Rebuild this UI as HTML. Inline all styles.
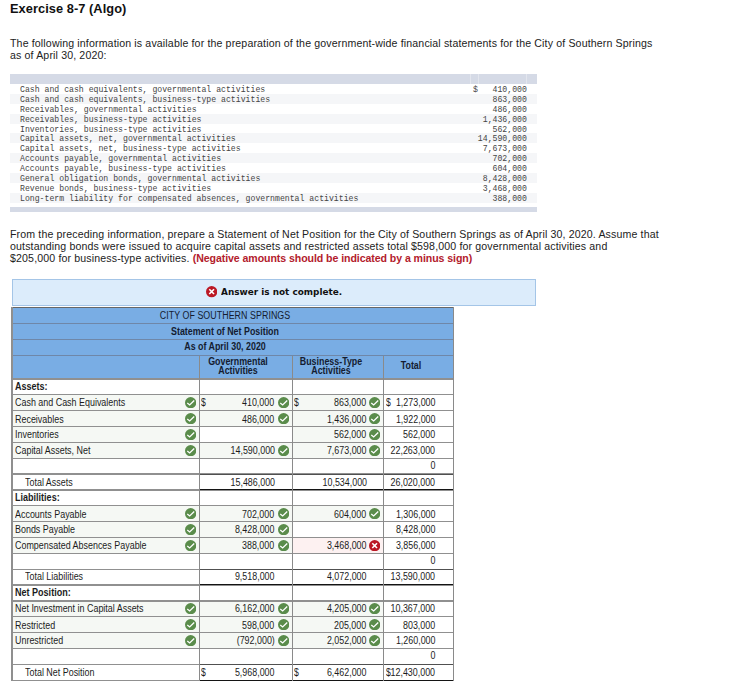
<!DOCTYPE html>
<html><head><meta charset="utf-8">
<style>
html,body{margin:0;padding:0;background:#fff;}
body{width:753px;height:692px;position:relative;overflow:hidden;font-family:"Liberation Sans",sans-serif;color:#222;}
h1{position:absolute;left:10px;top:0.6px;margin:0;font-size:12.8px;letter-spacing:0.06px;font-weight:bold;color:#111;white-space:nowrap;}
.p{position:absolute;left:10px;font-size:10.6px;letter-spacing:0.14px;line-height:12.4px;color:#222;white-space:nowrap;}
.red{color:#b3202c;font-weight:bold;letter-spacing:-0.08px}
#mono{position:absolute;left:9.5px;top:74px;width:527.2px;}
#mono .hd{height:10px;background:#d5dae6;position:relative}
#mono .hd i{position:absolute;top:0;height:10px;width:1px;background:#e3e6ee}
#mono .ft{height:4.8px;background:#d5dae6;margin-top:3.7px}
#mono .r{height:9.9px;font-family:"Liberation Mono",monospace;font-size:8.18px;line-height:10px;color:#444;position:relative;white-space:pre;}
#mono .r:nth-child(odd){background:#f5f6f8;}
#mono .r span.l{position:absolute;left:10.5px;top:0.6px}
#mono .r span.v{position:absolute;right:9.8px;top:0.6px}
#mono .r.d span.l,#mono .r.d span.v{top:1.6px}
#ans{position:absolute;left:11.5px;top:279.1px;width:524.5px;height:26.7px;box-sizing:border-box;border:1.3px solid #a4c5e7;background:#dcecfb;}
#ans span{position:absolute;left:208.1px;top:3.7px;font-family:"DejaVu Sans","Liberation Sans",sans-serif;font-weight:bold;font-size:9.5px;line-height:16px;color:#111;white-space:nowrap;transform:scaleX(0.936);transform-origin:left}
#ans svg{position:absolute;left:193.6px;top:6.2px;width:11.3px;height:11.3px}
#tb{position:absolute;left:0;top:0;width:753px;height:692px;font-size:9px;}
#hdr{position:absolute;left:11.5px;top:307px;width:441.9px;height:72px;background:#79ade4;}
.ht{position:absolute;left:25px;width:400px;text-align:center;font-size:10px;line-height:10px;color:#141c30;white-space:nowrap;transform:scaleX(0.887)}
.ht.b{font-weight:bold}
.ch{position:absolute;text-align:center;font-weight:bold;font-size:10px;line-height:9.6px;color:#141c30;transform:scaleX(0.887)}
.row{position:absolute;left:0;width:753px;height:15.85px;}
.row .bg{position:absolute;top:0;height:15.85px}
.bg.g{background:#f5f8f4}.bg.r{background:#fdf1f1}
.row span{position:absolute;top:1.9px;line-height:11px;font-size:10px;color:#1c1c1c;white-space:nowrap;transform:scaleX(0.903);transform-origin:left}
.row.d1 span{top:2.9px}
.row .val{transform:scaleX(0.89);transform-origin:right}
.row .dl{transform:scaleX(0.86)}
.row .lab{left:15.4px;transform:scaleX(0.893)}.row .lab.b{font-weight:bold;transform:scaleX(0.903)}.row .lab.ind{left:25px}
.row .ic{position:absolute;top:2.3px;width:11.3px;height:11.3px}
.hl{position:absolute;left:11.5px;width:441.9px;height:1.25px;background:#909090}
.vl{position:absolute;width:1.3px;background:#8a8a8a}
.dk{position:absolute;height:1.25px}
</style></head><body>
<h1>Exercise 8-7 (Algo)</h1>
<div class="p" style="top:36.7px">The following information is available for the preparation of the government-wide financial statements for the City of Southern Springs<br>as of April 30, 2020:</div>
<div id="mono">
<div class="hd"><i style="left:460px"></i><i style="left:468px"></i><i style="left:516px"></i></div>
<div class="r"><span class="l">Cash and cash equivalents, governmental activities</span><span class="v">$   410,000</span></div>
<div class="r d"><span class="l">Cash and cash equivalents, business-type activities</span><span class="v">863,000</span></div>
<div class="r d"><span class="l">Receivables, governmental activities</span><span class="v">486,000</span></div>
<div class="r d"><span class="l">Receivables, business-type activities</span><span class="v">1,436,000</span></div>
<div class="r d"><span class="l">Inventories, business-type activities</span><span class="v">562,000</span></div>
<div class="r"><span class="l">Capital assets, net, governmental activities</span><span class="v">14,590,000</span></div>
<div class="r"><span class="l">Capital assets, net, business-type activities</span><span class="v">7,673,000</span></div>
<div class="r"><span class="l">Accounts payable, governmental activities</span><span class="v">702,000</span></div>
<div class="r"><span class="l">Accounts payable, business-type activities</span><span class="v">604,000</span></div>
<div class="r"><span class="l">General obligation bonds, governmental activities</span><span class="v">8,428,000</span></div>
<div class="r"><span class="l">Revenue bonds, business-type activities</span><span class="v">3,468,000</span></div>
<div class="r d" style="height:10.6px"><span class="l">Long-term liability for compensated absences, governmental activities</span><span class="v">388,000</span></div>
<div class="ft"></div>
</div>
<div class="p" style="top:227.6px">From the preceding information, prepare a Statement of Net Position for the City of Southern Springs as of April 30, 2020. Assume that<br>outstanding bonds were issued to acquire capital assets and restricted assets total $598,000 for governmental activities and<br>$205,000 for business-type activities. <span class="red">(Negative amounts should be indicated by a minus sign)</span></div>
<div id="ans"><svg viewBox="0 0 24 24"><circle cx="12" cy="12" r="12" fill="#bb1824"/><path d="M7 7l10 10M17 7l-10 10" fill="none" stroke="#fff" stroke-width="3.4"/></svg><span>Answer is not complete.</span></div>
<div id="tb">
<div id="hdr"></div>
<div class="ht" style="top:311.3px;letter-spacing:0.05px">CITY OF SOUTHERN SPRINGS</div>
<div class="ht b" style="top:327.2px">Statement of Net Position</div>
<div class="ht b" style="top:342.1px">As of April 30, 2020</div>
<div class="ch" style="left:199.4px;width:78px;top:356.6px">Governmental<br>Activities</div>
<div class="ch" style="left:292.3px;width:78px;top:356.6px">Business-Type<br>Activities</div>
<div class="ch" style="left:383.7px;width:54px;top:361.4px">Total</div>
<div class="row" style="top:379.00px">
<span class="lab b">Assets:</span>
</div>
<div class="row" style="top:394.85px">
<div class="bg g" style="left:12.0px;width:187.4px"></div>
<div class="bg g" style="left:199.4px;width:92.9px"></div>
<div class="bg g" style="left:292.3px;width:91.4px"></div>
<span class="lab">Cash and Cash Equivalents</span>
<svg class="ic" style="left:184.8px" viewBox="0 0 24 24"><circle cx="12" cy="12" r="12" fill="#5a8c4b"/><path d="M4.8 12.6L9.9 17L19.6 7.4" fill="none" stroke="#fff" stroke-width="2.7"/></svg>
<span class="dl" style="left:200.7px">$</span>
<span class="val" style="right:478.4px">410,000</span>
<svg class="ic" style="left:277.5px" viewBox="0 0 24 24"><circle cx="12" cy="12" r="12" fill="#5a8c4b"/><path d="M4.8 12.6L9.9 17L19.6 7.4" fill="none" stroke="#fff" stroke-width="2.7"/></svg>
<span class="dl" style="left:293.6px">$</span>
<span class="val" style="right:386.4px">863,000</span>
<svg class="ic" style="left:368.9px" viewBox="0 0 24 24"><circle cx="12" cy="12" r="12" fill="#5a8c4b"/><path d="M4.8 12.6L9.9 17L19.6 7.4" fill="none" stroke="#fff" stroke-width="2.7"/></svg>
<span class="dl" style="left:386.0px">$</span>
<span class="val" style="right:317.8px">1,273,000</span>
</div>
<div class="row d1" style="top:410.70px">
<div class="bg g" style="left:12.0px;width:187.4px"></div>
<div class="bg g" style="left:199.4px;width:92.9px"></div>
<div class="bg g" style="left:292.3px;width:91.4px"></div>
<span class="lab">Receivables</span>
<svg class="ic" style="left:184.8px" viewBox="0 0 24 24"><circle cx="12" cy="12" r="12" fill="#5a8c4b"/><path d="M4.8 12.6L9.9 17L19.6 7.4" fill="none" stroke="#fff" stroke-width="2.7"/></svg>
<span class="val" style="right:478.4px">486,000</span>
<svg class="ic" style="left:277.5px" viewBox="0 0 24 24"><circle cx="12" cy="12" r="12" fill="#5a8c4b"/><path d="M4.8 12.6L9.9 17L19.6 7.4" fill="none" stroke="#fff" stroke-width="2.7"/></svg>
<span class="val" style="right:386.4px">1,436,000</span>
<svg class="ic" style="left:368.9px" viewBox="0 0 24 24"><circle cx="12" cy="12" r="12" fill="#5a8c4b"/><path d="M4.8 12.6L9.9 17L19.6 7.4" fill="none" stroke="#fff" stroke-width="2.7"/></svg>
<span class="val" style="right:317.8px">1,922,000</span>
</div>
<div class="row d1" style="top:426.55px">
<div class="bg g" style="left:12.0px;width:187.4px"></div>
<div class="bg g" style="left:292.3px;width:91.4px"></div>
<span class="lab">Inventories</span>
<svg class="ic" style="left:184.8px" viewBox="0 0 24 24"><circle cx="12" cy="12" r="12" fill="#5a8c4b"/><path d="M4.8 12.6L9.9 17L19.6 7.4" fill="none" stroke="#fff" stroke-width="2.7"/></svg>
<span class="val" style="right:386.4px">562,000</span>
<svg class="ic" style="left:368.9px" viewBox="0 0 24 24"><circle cx="12" cy="12" r="12" fill="#5a8c4b"/><path d="M4.8 12.6L9.9 17L19.6 7.4" fill="none" stroke="#fff" stroke-width="2.7"/></svg>
<span class="val" style="right:317.8px">562,000</span>
</div>
<div class="row d1" style="top:442.40px">
<div class="bg g" style="left:12.0px;width:187.4px"></div>
<div class="bg g" style="left:199.4px;width:92.9px"></div>
<div class="bg g" style="left:292.3px;width:91.4px"></div>
<span class="lab">Capital Assets, Net</span>
<svg class="ic" style="left:184.8px" viewBox="0 0 24 24"><circle cx="12" cy="12" r="12" fill="#5a8c4b"/><path d="M4.8 12.6L9.9 17L19.6 7.4" fill="none" stroke="#fff" stroke-width="2.7"/></svg>
<span class="val" style="right:478.4px">14,590,000</span>
<svg class="ic" style="left:277.5px" viewBox="0 0 24 24"><circle cx="12" cy="12" r="12" fill="#5a8c4b"/><path d="M4.8 12.6L9.9 17L19.6 7.4" fill="none" stroke="#fff" stroke-width="2.7"/></svg>
<span class="val" style="right:386.4px">7,673,000</span>
<svg class="ic" style="left:368.9px" viewBox="0 0 24 24"><circle cx="12" cy="12" r="12" fill="#5a8c4b"/><path d="M4.8 12.6L9.9 17L19.6 7.4" fill="none" stroke="#fff" stroke-width="2.7"/></svg>
<span class="val" style="right:317.8px">22,263,000</span>
</div>
<div class="row" style="top:458.25px">
<span class="val" style="right:317.8px">0</span>
</div>
<div class="row d1" style="top:474.10px">
<span class="lab ind">Total Assets</span>
<span class="val" style="right:478.4px">15,486,000</span>
<span class="val" style="right:386.4px">10,534,000</span>
<span class="val" style="right:317.8px">26,020,000</span>
</div>
<div class="row" style="top:489.95px">
<span class="lab b">Liabilities:</span>
</div>
<div class="row d1" style="top:505.80px">
<div class="bg g" style="left:12.0px;width:187.4px"></div>
<div class="bg g" style="left:199.4px;width:92.9px"></div>
<div class="bg g" style="left:292.3px;width:91.4px"></div>
<span class="lab">Accounts Payable</span>
<svg class="ic" style="left:184.8px" viewBox="0 0 24 24"><circle cx="12" cy="12" r="12" fill="#5a8c4b"/><path d="M4.8 12.6L9.9 17L19.6 7.4" fill="none" stroke="#fff" stroke-width="2.7"/></svg>
<span class="val" style="right:478.4px">702,000</span>
<svg class="ic" style="left:277.5px" viewBox="0 0 24 24"><circle cx="12" cy="12" r="12" fill="#5a8c4b"/><path d="M4.8 12.6L9.9 17L19.6 7.4" fill="none" stroke="#fff" stroke-width="2.7"/></svg>
<span class="val" style="right:386.4px">604,000</span>
<svg class="ic" style="left:368.9px" viewBox="0 0 24 24"><circle cx="12" cy="12" r="12" fill="#5a8c4b"/><path d="M4.8 12.6L9.9 17L19.6 7.4" fill="none" stroke="#fff" stroke-width="2.7"/></svg>
<span class="val" style="right:317.8px">1,306,000</span>
</div>
<div class="row" style="top:521.65px">
<div class="bg g" style="left:12.0px;width:187.4px"></div>
<div class="bg g" style="left:199.4px;width:92.9px"></div>
<span class="lab">Bonds Payable</span>
<svg class="ic" style="left:184.8px" viewBox="0 0 24 24"><circle cx="12" cy="12" r="12" fill="#5a8c4b"/><path d="M4.8 12.6L9.9 17L19.6 7.4" fill="none" stroke="#fff" stroke-width="2.7"/></svg>
<span class="val" style="right:478.4px">8,428,000</span>
<svg class="ic" style="left:277.5px" viewBox="0 0 24 24"><circle cx="12" cy="12" r="12" fill="#5a8c4b"/><path d="M4.8 12.6L9.9 17L19.6 7.4" fill="none" stroke="#fff" stroke-width="2.7"/></svg>
<span class="val" style="right:317.8px">8,428,000</span>
</div>
<div class="row d1" style="top:537.50px">
<div class="bg g" style="left:12.0px;width:187.4px"></div>
<div class="bg g" style="left:199.4px;width:92.9px"></div>
<div class="bg r" style="left:292.3px;width:91.4px"></div>
<span class="lab">Compensated Absences Payable</span>
<svg class="ic" style="left:184.8px" viewBox="0 0 24 24"><circle cx="12" cy="12" r="12" fill="#5a8c4b"/><path d="M4.8 12.6L9.9 17L19.6 7.4" fill="none" stroke="#fff" stroke-width="2.7"/></svg>
<span class="val" style="right:478.4px">388,000</span>
<svg class="ic" style="left:277.5px" viewBox="0 0 24 24"><circle cx="12" cy="12" r="12" fill="#5a8c4b"/><path d="M4.8 12.6L9.9 17L19.6 7.4" fill="none" stroke="#fff" stroke-width="2.7"/></svg>
<span class="val" style="right:386.4px">3,468,000</span>
<svg class="ic" style="left:368.9px" viewBox="0 0 24 24"><circle cx="12" cy="12" r="12" fill="#bb1824"/><path d="M7 7l10 10M17 7l-10 10" fill="none" stroke="#fff" stroke-width="3.4"/></svg>
<span class="val" style="right:317.8px">3,856,000</span>
</div>
<div class="row" style="top:553.35px">
<span class="val" style="right:317.8px">0</span>
</div>
<div class="row" style="top:569.20px">
<span class="lab ind">Total Liabilities</span>
<span class="val" style="right:478.4px">9,518,000</span>
<span class="val" style="right:386.4px">4,072,000</span>
<span class="val" style="right:317.8px">13,590,000</span>
</div>
<div class="row" style="top:585.05px">
<span class="lab b">Net Position:</span>
</div>
<div class="row" style="top:600.90px">
<div class="bg g" style="left:12.0px;width:187.4px"></div>
<div class="bg g" style="left:199.4px;width:92.9px"></div>
<div class="bg g" style="left:292.3px;width:91.4px"></div>
<span class="lab">Net Investment in Capital Assets</span>
<svg class="ic" style="left:184.8px" viewBox="0 0 24 24"><circle cx="12" cy="12" r="12" fill="#5a8c4b"/><path d="M4.8 12.6L9.9 17L19.6 7.4" fill="none" stroke="#fff" stroke-width="2.7"/></svg>
<span class="val" style="right:478.4px">6,162,000</span>
<svg class="ic" style="left:277.5px" viewBox="0 0 24 24"><circle cx="12" cy="12" r="12" fill="#5a8c4b"/><path d="M4.8 12.6L9.9 17L19.6 7.4" fill="none" stroke="#fff" stroke-width="2.7"/></svg>
<span class="val" style="right:386.4px">4,205,000</span>
<svg class="ic" style="left:368.9px" viewBox="0 0 24 24"><circle cx="12" cy="12" r="12" fill="#5a8c4b"/><path d="M4.8 12.6L9.9 17L19.6 7.4" fill="none" stroke="#fff" stroke-width="2.7"/></svg>
<span class="val" style="right:317.8px">10,367,000</span>
</div>
<div class="row d1" style="top:616.75px">
<div class="bg g" style="left:12.0px;width:187.4px"></div>
<div class="bg g" style="left:199.4px;width:92.9px"></div>
<div class="bg g" style="left:292.3px;width:91.4px"></div>
<span class="lab">Restricted</span>
<svg class="ic" style="left:184.8px" viewBox="0 0 24 24"><circle cx="12" cy="12" r="12" fill="#5a8c4b"/><path d="M4.8 12.6L9.9 17L19.6 7.4" fill="none" stroke="#fff" stroke-width="2.7"/></svg>
<span class="val" style="right:478.4px">598,000</span>
<svg class="ic" style="left:277.5px" viewBox="0 0 24 24"><circle cx="12" cy="12" r="12" fill="#5a8c4b"/><path d="M4.8 12.6L9.9 17L19.6 7.4" fill="none" stroke="#fff" stroke-width="2.7"/></svg>
<span class="val" style="right:386.4px">205,000</span>
<svg class="ic" style="left:368.9px" viewBox="0 0 24 24"><circle cx="12" cy="12" r="12" fill="#5a8c4b"/><path d="M4.8 12.6L9.9 17L19.6 7.4" fill="none" stroke="#fff" stroke-width="2.7"/></svg>
<span class="val" style="right:317.8px">803,000</span>
</div>
<div class="row d1" style="top:632.60px">
<div class="bg g" style="left:12.0px;width:187.4px"></div>
<div class="bg g" style="left:199.4px;width:92.9px"></div>
<div class="bg g" style="left:292.3px;width:91.4px"></div>
<span class="lab">Unrestricted</span>
<svg class="ic" style="left:184.8px" viewBox="0 0 24 24"><circle cx="12" cy="12" r="12" fill="#5a8c4b"/><path d="M4.8 12.6L9.9 17L19.6 7.4" fill="none" stroke="#fff" stroke-width="2.7"/></svg>
<span class="val" style="right:478.4px">(792,000)</span>
<svg class="ic" style="left:277.5px" viewBox="0 0 24 24"><circle cx="12" cy="12" r="12" fill="#5a8c4b"/><path d="M4.8 12.6L9.9 17L19.6 7.4" fill="none" stroke="#fff" stroke-width="2.7"/></svg>
<span class="val" style="right:386.4px">2,052,000</span>
<svg class="ic" style="left:368.9px" viewBox="0 0 24 24"><circle cx="12" cy="12" r="12" fill="#5a8c4b"/><path d="M4.8 12.6L9.9 17L19.6 7.4" fill="none" stroke="#fff" stroke-width="2.7"/></svg>
<span class="val" style="right:317.8px">1,260,000</span>
</div>
<div class="row" style="top:648.45px">
<span class="val" style="right:317.8px">0</span>
</div>
<div class="row d1" style="top:664.30px">
<span class="lab ind">Total Net Position</span>
<span class="dl" style="left:200.7px">$</span>
<span class="val" style="right:478.4px">5,968,000</span>
<span class="dl" style="left:293.6px">$</span>
<span class="val" style="right:386.4px">6,462,000</span>
<span class="dl" style="left:386.0px">$</span>
<span class="val" style="right:317.8px">12,430,000</span>
</div>
<div class="hl" style="top:378.38px"></div>
<div class="hl" style="top:394.23px"></div>
<div class="hl" style="top:410.08px"></div>
<div class="hl" style="top:425.93px"></div>
<div class="hl" style="top:441.78px"></div>
<div class="hl" style="top:457.63px"></div>
<div class="hl" style="top:473.48px"></div>
<div class="hl" style="top:489.33px"></div>
<div class="hl" style="top:505.18px"></div>
<div class="hl" style="top:521.03px"></div>
<div class="hl" style="top:536.88px"></div>
<div class="hl" style="top:552.73px"></div>
<div class="hl" style="top:568.58px"></div>
<div class="hl" style="top:584.43px"></div>
<div class="hl" style="top:600.28px"></div>
<div class="hl" style="top:616.13px"></div>
<div class="hl" style="top:631.98px"></div>
<div class="hl" style="top:647.83px"></div>
<div class="hl" style="top:663.68px"></div>
<div class="hl" style="top:679.53px"></div><div class="dk" style="left:199px;width:254.4px;top:473.80px;height:1px;background:#505050"></div><div class="dk" style="left:199px;width:254.4px;top:489.33px;height:0.95px;background:#141414"></div><div class="dk" style="left:199px;width:254.4px;top:568.90px;height:1px;background:#505050"></div><div class="dk" style="left:199px;width:254.4px;top:584.43px;height:0.95px;background:#141414"></div><div class="dk" style="left:199px;width:254.4px;top:664.00px;height:1px;background:#505050"></div><div class="dk" style="left:199px;width:254.4px;top:679.53px;height:0.95px;background:#141414"></div>
<div class="hl" style="top:306.8px;background:#666"></div>
<div class="hl" style="top:323.2px;background:#6f87a8"></div>
<div class="hl" style="top:339.2px;background:#6f87a8"></div>
<div class="hl" style="top:355.1px;background:#6f87a8"></div>
<div class="vl" style="left:11.3px;top:307px;height:373.6px;background:#8f8f8f"></div>
<div class="vl" style="left:198.9px;top:355.5px;height:325px"></div>
<div class="vl" style="left:291.8px;top:355.5px;height:325px"></div>
<div class="vl" style="left:383.2px;top:355.5px;height:325px"></div>
<div class="vl" style="left:452.6px;top:307px;height:373.6px"></div>
</div>
</body></html>
